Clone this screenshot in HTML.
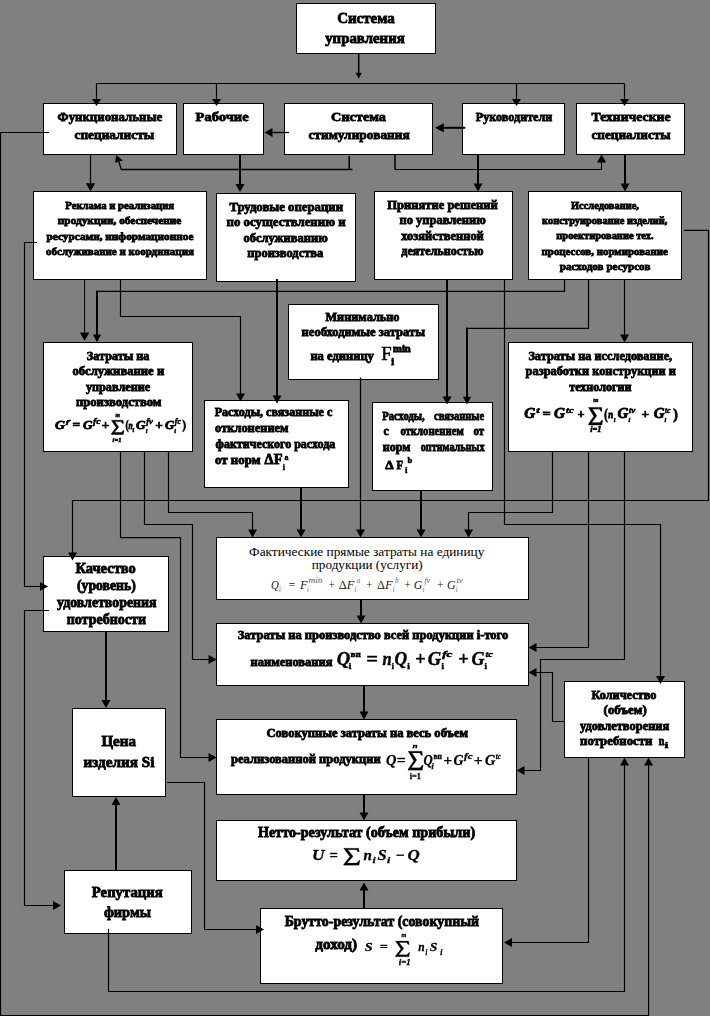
<!DOCTYPE html>
<html><head><meta charset="utf-8"><title>diagram</title>
<style>
html,body{margin:0;padding:0;background:#808080;}
body{width:710px;height:1016px;overflow:hidden;font-family:"Liberation Serif",serif;}
svg{display:block}
</style></head><body>
<svg width="710" height="1016" viewBox="0 0 710 1016">
<rect x="0" y="0" width="710" height="1016" fill="#808080"/>
<g id="boxes">
<rect x="296.5" y="3.5" width="139" height="50" fill="#fff" stroke="#000" stroke-width="1"/>
<rect x="43.5" y="103.5" width="133" height="51" fill="#fff" stroke="#000" stroke-width="1"/>
<rect x="183.5" y="103.5" width="80" height="51" fill="#fff" stroke="#000" stroke-width="1"/>
<rect x="284.5" y="103.5" width="148" height="51" fill="#fff" stroke="#000" stroke-width="1"/>
<rect x="462.5" y="103.5" width="102" height="51" fill="#fff" stroke="#000" stroke-width="1"/>
<rect x="576.5" y="103.5" width="108" height="51" fill="#fff" stroke="#000" stroke-width="1"/>
<rect x="33.5" y="191.5" width="173" height="88" fill="#fff" stroke="#000" stroke-width="1"/>
<rect x="216.5" y="193.5" width="139" height="88" fill="#fff" stroke="#000" stroke-width="1"/>
<rect x="374.5" y="191.5" width="138" height="88" fill="#fff" stroke="#000" stroke-width="1"/>
<rect x="528.5" y="191.5" width="153" height="88" fill="#fff" stroke="#000" stroke-width="1"/>
<rect x="43.5" y="342.5" width="149" height="109" fill="#fff" stroke="#000" stroke-width="1"/>
<rect x="288.5" y="304.5" width="150" height="75" fill="#fff" stroke="#000" stroke-width="1"/>
<rect x="204.5" y="400.5" width="144" height="87" fill="#fff" stroke="#000" stroke-width="1"/>
<rect x="372.5" y="402.5" width="120" height="88" fill="#fff" stroke="#000" stroke-width="1"/>
<rect x="508.5" y="342.5" width="184" height="109" fill="#fff" stroke="#000" stroke-width="1"/>
<rect x="43.5" y="556.5" width="125" height="75" fill="#fff" stroke="#000" stroke-width="1"/>
<rect x="216.5" y="537.5" width="312" height="62" fill="#fff" stroke="#000" stroke-width="1"/>
<rect x="216.5" y="623.5" width="312" height="62" fill="#fff" stroke="#000" stroke-width="1"/>
<rect x="564.5" y="681.5" width="120" height="76" fill="#fff" stroke="#000" stroke-width="1"/>
<rect x="72.5" y="708.5" width="93" height="88" fill="#fff" stroke="#000" stroke-width="1"/>
<rect x="216.5" y="719.5" width="300" height="75" fill="#fff" stroke="#000" stroke-width="1"/>
<rect x="216.5" y="820.5" width="300" height="60" fill="#fff" stroke="#000" stroke-width="1"/>
<rect x="64.5" y="870.5" width="127" height="63" fill="#fff" stroke="#000" stroke-width="1"/>
<rect x="260.5" y="908.5" width="242" height="75" fill="#fff" stroke="#000" stroke-width="1"/>
</g>
<g id="lines">
<polyline points="96.5,83.5 96.5,101.8" fill="none" stroke="#000" stroke-width="1.2"/>
<polygon points="96.5,106 92,99 101,99" fill="#000"/>
<polyline points="96.5,83.5 624.5,83.5" fill="none" stroke="#000" stroke-width="1.2"/>
<polyline points="624.5,83.5 624.5,101.8" fill="none" stroke="#000" stroke-width="1.2"/>
<polygon points="624.5,106 620,99 629,99" fill="#000"/>
<polyline points="216.5,83.5 216.5,101.8" fill="none" stroke="#000" stroke-width="1.2"/>
<polygon points="216.5,106 212,99 221,99" fill="#000"/>
<polyline points="516.5,83.5 516.5,101.8" fill="none" stroke="#000" stroke-width="1.2"/>
<polygon points="516.5,106 512,99 521,99" fill="#000"/>
<polyline points="358.7,53 358.7,75.2" fill="none" stroke="#000" stroke-width="1.5"/>
<polygon points="358.7,78.8 355.5,72.8 361.9,72.8" fill="#000"/>
<polyline points="289,132.5 269.3,132.5" fill="none" stroke="#000" stroke-width="1.3"/>
<polygon points="264.5,132.5 272.5,128 272.5,137" fill="#000"/>
<polyline points="465.3,127.8 440.3,127.8" fill="none" stroke="#000" stroke-width="2"/>
<polygon points="435,127.8 443.8,123.3 443.8,132.3" fill="#000"/>
<polyline points="49,132.5 0.5,132.5 0.5,1015.5 648.6,1015.5 648.6,762.3" fill="none" stroke="#000" stroke-width="1.2"/>
<polygon points="648.6,757.5 653.1,765.5 644.1,765.5" fill="#000"/>
<polyline points="90.5,154.5 90.5,186.5" fill="none" stroke="#000" stroke-width="1.2"/>
<polygon points="90.5,191.4 85.9,183.2 95.1,183.2" fill="#000"/>
<polyline points="240,154 240,187.2" fill="none" stroke="#000" stroke-width="2"/>
<polygon points="240,192 235.5,184 244.5,184" fill="#000"/>
<polyline points="478,154 478,186.7" fill="none" stroke="#000" stroke-width="2"/>
<polygon points="478,191.5 473.5,183.5 482.5,183.5" fill="#000"/>
<polyline points="625,154 625,186.7" fill="none" stroke="#000" stroke-width="2"/>
<polygon points="625,191.5 620.5,183.5 629.5,183.5" fill="#000"/>
<polyline points="349.2,156 349.2,169.5" fill="none" stroke="#000" stroke-width="1.5"/>
<polyline points="352.5,169.5 121.3,169.5 118.8,161.5" fill="none" stroke="#000" stroke-width="1.3"/>
<polygon points="116.3,154.9 115,162.8 122.9,160.6" fill="#000"/>
<polyline points="395,154 395,169.5" fill="none" stroke="#000" stroke-width="1.5"/>
<polyline points="395,169.5 601.5,169.5 601.5,159.3" fill="none" stroke="#000" stroke-width="1.2"/>
<polygon points="601.5,154.5 606,162.5 597,162.5" fill="#000"/>
<polyline points="37,242.5 24.5,242.5 24.5,586.5 43.2,586.5" fill="none" stroke="#000" stroke-width="1.2"/>
<polygon points="48,586.5 40,591 40,582" fill="#000"/>
<polyline points="84.6,279 84.6,335.8" fill="none" stroke="#000" stroke-width="1"/>
<polygon points="84.6,340.8 79.9,332.4 89.3,332.4" fill="#000"/>
<polyline points="564.5,279 564.5,291.4 96,291.4" fill="none" stroke="#000" stroke-width="1.2"/>
<polyline points="97,290.8 97,337.6" fill="none" stroke="#000" stroke-width="2"/>
<polygon points="97,342.2 92.9,334.6 101.1,334.6" fill="#000"/>
<polyline points="120.5,279 120.5,316.5 240.5,316.5 240.5,396.7" fill="none" stroke="#000" stroke-width="1.2"/>
<polygon points="240.5,401.5 236,393.5 245,393.5" fill="#000"/>
<polyline points="277,279 277,398.7" fill="none" stroke="#000" stroke-width="2"/>
<polygon points="277,403.5 272.5,395.5 281.5,395.5" fill="#000"/>
<polyline points="447,279 447,399.6" fill="none" stroke="#000" stroke-width="2"/>
<polygon points="447,404.4 442.5,396.4 451.5,396.4" fill="#000"/>
<polyline points="588.5,279 588.5,328.4 466,328.4" fill="none" stroke="#000" stroke-width="1.2"/>
<polyline points="467,327.8 467,399.8" fill="none" stroke="#000" stroke-width="2"/>
<polygon points="467,404.4 462.9,396.8 471.1,396.8" fill="#000"/>
<polyline points="504.5,279 504.5,524.5 660.5,524.5 660.5,679.2" fill="none" stroke="#000" stroke-width="1.2"/>
<polygon points="660.5,684 656,676 665,676" fill="#000"/>
<polyline points="624.5,279 624.5,337.7" fill="none" stroke="#000" stroke-width="1.2"/>
<polygon points="624.5,342.5 620,334.5 629,334.5" fill="#000"/>
<polyline points="684,230.4 708.5,230.4 708.5,500.5 72.5,500.5 72.5,555.7" fill="none" stroke="#000" stroke-width="1.2"/>
<polygon points="72.5,560.5 68,552.5 77,552.5" fill="#000"/>
<polyline points="120.5,451.5 120.5,537.7 180.5,537.7 180.5,757.5 211.7,757.5" fill="none" stroke="#000" stroke-width="1.2"/>
<polygon points="216.5,757.5 208.5,762 208.5,753" fill="#000"/>
<polyline points="144.5,451.5 144.5,524.5 192.5,524.5 192.5,659.5 211.7,659.5" fill="none" stroke="#000" stroke-width="1.2"/>
<polygon points="216.5,659.5 208.5,664 208.5,655" fill="#000"/>
<polyline points="168.5,451.5 168.5,512.5 252.5,512.5 252.5,532.7" fill="none" stroke="#000" stroke-width="1.2"/>
<polygon points="252.5,537.5 248,529.5 257,529.5" fill="#000"/>
<polyline points="301,487 301,532.7" fill="none" stroke="#000" stroke-width="2"/>
<polygon points="301,537.5 296.5,529.5 305.5,529.5" fill="#000"/>
<polyline points="360.5,377.5 360.5,532.7" fill="none" stroke="#000" stroke-width="1.3"/>
<polygon points="360.5,537.5 356,529.5 365,529.5" fill="#000"/>
<polyline points="421,490 421,532.7" fill="none" stroke="#000" stroke-width="2"/>
<polygon points="421,537.5 416.5,529.5 425.5,529.5" fill="#000"/>
<polyline points="552.5,451.5 552.5,512.5 468.5,512.5 468.5,532.7" fill="none" stroke="#000" stroke-width="1.2"/>
<polygon points="468.5,537.5 464,529.5 473,529.5" fill="#000"/>
<polyline points="588.5,451.5 588.5,647.5 533.3,647.5" fill="none" stroke="#000" stroke-width="1.2"/>
<polygon points="528.5,647.5 536.5,643 536.5,652" fill="#000"/>
<polyline points="624.5,451.5 624.5,659.5 540.5,659.5 540.5,770.5 521.3,770.5" fill="none" stroke="#000" stroke-width="1.2"/>
<polygon points="516.5,770.5 524.5,766 524.5,775" fill="#000"/>
<polyline points="564.5,721.5 552.5,721.5 552.5,672.5 533.3,672.5" fill="none" stroke="#000" stroke-width="1.2"/>
<polygon points="528.5,672.5 536.5,668 536.5,677" fill="#000"/>
<polyline points="361,599.5 361,618.7" fill="none" stroke="#000" stroke-width="2"/>
<polygon points="361,623.5 356.5,615.5 365.5,615.5" fill="#000"/>
<polyline points="364,685.5 364,714.7" fill="none" stroke="#000" stroke-width="2"/>
<polygon points="364,719.5 359.5,711.5 368.5,711.5" fill="#000"/>
<polyline points="364,794 364,815.7" fill="none" stroke="#000" stroke-width="2"/>
<polygon points="364,820.5 359.5,812.5 368.5,812.5" fill="#000"/>
<polyline points="364,908.5 364,887.3" fill="none" stroke="#000" stroke-width="2"/>
<polygon points="364,882.5 368.5,890.5 359.5,890.5" fill="#000"/>
<polyline points="106,631.5 106,703.2" fill="none" stroke="#000" stroke-width="2"/>
<polygon points="106,708 101.5,700 110.5,700" fill="#000"/>
<polyline points="116,870.5 116,801.8" fill="none" stroke="#000" stroke-width="2"/>
<polygon points="116,797 120.5,805 111.5,805" fill="#000"/>
<polyline points="49,610.5 24.5,610.5 24.5,905.5 56.2,905.5" fill="none" stroke="#000" stroke-width="1.2"/>
<polygon points="61,905.5 53,910 53,901" fill="#000"/>
<polyline points="167,782.5 204.5,782.5 204.5,929.5 259.2,929.5" fill="none" stroke="#000" stroke-width="1.2"/>
<polygon points="264,929.5 256,934 256,925" fill="#000"/>
<polyline points="588.5,757.5 588.5,942.5 508.8,942.5" fill="none" stroke="#000" stroke-width="1.2"/>
<polygon points="504,942.5 512,938 512,947" fill="#000"/>
<polyline points="108.5,928.7 108.5,991.5 624.5,991.5 624.5,762.3" fill="none" stroke="#000" stroke-width="1.2"/>
<polygon points="624.5,757.5 629,765.5 620,765.5" fill="#000"/>
</g>
<defs><filter id="bl" x="-2%" y="-2%" width="104%" height="104%"><feGaussianBlur stdDeviation="0.45 0.3"/></filter></defs>
<g id="text" filter="url(#bl)">
<text x="337.2" y="23.2" font-size="15" text-anchor="start" font-weight="bold" font-style="normal" fill="#000" font-family="'Liberation Serif', serif" stroke="#000" stroke-width="0.8" textLength="57.6" lengthAdjust="spacingAndGlyphs">Система</text>
<text x="325.2" y="43" font-size="15" text-anchor="start" font-weight="bold" font-style="normal" fill="#000" font-family="'Liberation Serif', serif" stroke="#000" stroke-width="0.8" textLength="79.6" lengthAdjust="spacingAndGlyphs">управления</text>
<text x="57.6" y="120.7" font-size="13.5" text-anchor="start" font-weight="bold" font-style="normal" fill="#000" font-family="'Liberation Serif', serif" stroke="#000" stroke-width="0.8" textLength="104.6" lengthAdjust="spacingAndGlyphs">Функциональные</text>
<text x="74.5" y="139" font-size="13.5" text-anchor="start" font-weight="bold" font-style="normal" fill="#000" font-family="'Liberation Serif', serif" stroke="#000" stroke-width="0.8" textLength="79.6" lengthAdjust="spacingAndGlyphs">специалисты</text>
<text x="195.6" y="121.2" font-size="13.5" text-anchor="start" font-weight="bold" font-style="normal" fill="#000" font-family="'Liberation Serif', serif" stroke="#000" stroke-width="0.8" textLength="53" lengthAdjust="spacingAndGlyphs">Рабочие</text>
<text x="331.1" y="120.7" font-size="13.5" text-anchor="start" font-weight="bold" font-style="normal" fill="#000" font-family="'Liberation Serif', serif" stroke="#000" stroke-width="0.8" textLength="54.9" lengthAdjust="spacingAndGlyphs">Система</text>
<text x="308.4" y="139" font-size="13.5" text-anchor="start" font-weight="bold" font-style="normal" fill="#000" font-family="'Liberation Serif', serif" stroke="#000" stroke-width="0.8" textLength="101.4" lengthAdjust="spacingAndGlyphs">стимулирования</text>
<text x="475.8" y="121.2" font-size="13.5" text-anchor="start" font-weight="bold" font-style="normal" fill="#000" font-family="'Liberation Serif', serif" stroke="#000" stroke-width="0.8" textLength="76.5" lengthAdjust="spacingAndGlyphs">Руководители</text>
<text x="591.5" y="120.7" font-size="13.5" text-anchor="start" font-weight="bold" font-style="normal" fill="#000" font-family="'Liberation Serif', serif" stroke="#000" stroke-width="0.8" textLength="79.1" lengthAdjust="spacingAndGlyphs">Технические</text>
<text x="591.5" y="139" font-size="13.5" text-anchor="start" font-weight="bold" font-style="normal" fill="#000" font-family="'Liberation Serif', serif" stroke="#000" stroke-width="0.8" textLength="79.1" lengthAdjust="spacingAndGlyphs">специалисты</text>
<text x="65.3" y="209" font-size="11" text-anchor="start" font-weight="bold" font-style="normal" fill="#000" font-family="'Liberation Serif', serif" stroke="#000" stroke-width="0.8" textLength="108.8" lengthAdjust="spacingAndGlyphs">Реклама и реализация</text>
<text x="57.8" y="224.3" font-size="11" text-anchor="start" font-weight="bold" font-style="normal" fill="#000" font-family="'Liberation Serif', serif" stroke="#000" stroke-width="0.8" textLength="123.5" lengthAdjust="spacingAndGlyphs">продукции,  обеспечение</text>
<text x="46.6" y="239.8" font-size="11" text-anchor="start" font-weight="bold" font-style="normal" fill="#000" font-family="'Liberation Serif', serif" stroke="#000" stroke-width="0.8" textLength="146.8" lengthAdjust="spacingAndGlyphs">ресурсами, информационное</text>
<text x="46.1" y="255.2" font-size="11" text-anchor="start" font-weight="bold" font-style="normal" fill="#000" font-family="'Liberation Serif', serif" stroke="#000" stroke-width="0.8" textLength="147.8" lengthAdjust="spacingAndGlyphs">обслуживание  и координация</text>
<text x="229.4" y="211" font-size="12.5" text-anchor="start" font-weight="bold" font-style="normal" fill="#000" font-family="'Liberation Serif', serif" stroke="#000" stroke-width="0.8" textLength="113.6" lengthAdjust="spacingAndGlyphs">Трудовые операции</text>
<text x="226.6" y="226.4" font-size="12.5" text-anchor="start" font-weight="bold" font-style="normal" fill="#000" font-family="'Liberation Serif', serif" stroke="#000" stroke-width="0.8" textLength="119" lengthAdjust="spacingAndGlyphs">по осуществлению и</text>
<text x="243.4" y="241.8" font-size="12.5" text-anchor="start" font-weight="bold" font-style="normal" fill="#000" font-family="'Liberation Serif', serif" stroke="#000" stroke-width="0.8" textLength="84.3" lengthAdjust="spacingAndGlyphs">обслуживанию</text>
<text x="247.3" y="257.4" font-size="12.5" text-anchor="start" font-weight="bold" font-style="normal" fill="#000" font-family="'Liberation Serif', serif" stroke="#000" stroke-width="0.8" textLength="76" lengthAdjust="spacingAndGlyphs">производства</text>
<text x="387.3" y="208.8" font-size="12.5" text-anchor="start" font-weight="bold" font-style="normal" fill="#000" font-family="'Liberation Serif', serif" stroke="#000" stroke-width="0.8" textLength="110.5" lengthAdjust="spacingAndGlyphs">Принятие  решений</text>
<text x="399.5" y="224" font-size="12.5" text-anchor="start" font-weight="bold" font-style="normal" fill="#000" font-family="'Liberation Serif', serif" stroke="#000" stroke-width="0.8" textLength="86.3" lengthAdjust="spacingAndGlyphs">по управлению</text>
<text x="401.3" y="239.6" font-size="12.5" text-anchor="start" font-weight="bold" font-style="normal" fill="#000" font-family="'Liberation Serif', serif" stroke="#000" stroke-width="0.8" textLength="82.5" lengthAdjust="spacingAndGlyphs">хозяйственной</text>
<text x="401.3" y="255.2" font-size="12.5" text-anchor="start" font-weight="bold" font-style="normal" fill="#000" font-family="'Liberation Serif', serif" stroke="#000" stroke-width="0.8" textLength="82.3" lengthAdjust="spacingAndGlyphs">деятельностью</text>
<text x="571" y="208.6" font-size="11" text-anchor="start" font-weight="bold" font-style="normal" fill="#000" font-family="'Liberation Serif', serif" stroke="#000" stroke-width="0.8" textLength="67.9" lengthAdjust="spacingAndGlyphs">Исследование,</text>
<text x="542.1" y="223.9" font-size="11" text-anchor="start" font-weight="bold" font-style="normal" fill="#000" font-family="'Liberation Serif', serif" stroke="#000" stroke-width="0.8" textLength="125.4" lengthAdjust="spacingAndGlyphs">конструирование изделий,</text>
<text x="556.3" y="239.3" font-size="11" text-anchor="start" font-weight="bold" font-style="normal" fill="#000" font-family="'Liberation Serif', serif" stroke="#000" stroke-width="0.8" textLength="97.3" lengthAdjust="spacingAndGlyphs">проектирование тех.</text>
<text x="541.6" y="254.7" font-size="11" text-anchor="start" font-weight="bold" font-style="normal" fill="#000" font-family="'Liberation Serif', serif" stroke="#000" stroke-width="0.8" textLength="126.2" lengthAdjust="spacingAndGlyphs">процессов, нормирование</text>
<text x="559.8" y="270.1" font-size="11" text-anchor="start" font-weight="bold" font-style="normal" fill="#000" font-family="'Liberation Serif', serif" stroke="#000" stroke-width="0.8" textLength="90.6" lengthAdjust="spacingAndGlyphs">расходов ресурсов</text>
<text x="86.8" y="360" font-size="12.3" text-anchor="start" font-weight="bold" font-style="normal" fill="#000" font-family="'Liberation Serif', serif" stroke="#000" stroke-width="0.8" textLength="62.6" lengthAdjust="spacingAndGlyphs">Затраты на</text>
<text x="72.4" y="375" font-size="12.3" text-anchor="start" font-weight="bold" font-style="normal" fill="#000" font-family="'Liberation Serif', serif" stroke="#000" stroke-width="0.8" textLength="91.8" lengthAdjust="spacingAndGlyphs">обслуживание и</text>
<text x="85.9" y="390.6" font-size="12.3" text-anchor="start" font-weight="bold" font-style="normal" fill="#000" font-family="'Liberation Serif', serif" stroke="#000" stroke-width="0.8" textLength="64.4" lengthAdjust="spacingAndGlyphs">управление</text>
<text x="75.9" y="406" font-size="12.3" text-anchor="start" font-weight="bold" font-style="normal" fill="#000" font-family="'Liberation Serif', serif" stroke="#000" stroke-width="0.8" textLength="85.6" lengthAdjust="spacingAndGlyphs">производством</text>
<text x="325.5" y="320.5" font-size="12.3" text-anchor="start" font-weight="bold" font-style="normal" fill="#000" font-family="'Liberation Serif', serif" stroke="#000" stroke-width="0.8" textLength="74" lengthAdjust="spacingAndGlyphs">Минимально</text>
<text x="301.6" y="336.3" font-size="12.3" text-anchor="start" font-weight="bold" font-style="normal" fill="#000" font-family="'Liberation Serif', serif" stroke="#000" stroke-width="0.8" textLength="123.4" lengthAdjust="spacingAndGlyphs">необходимые затраты</text>
<text x="310.4" y="359.6" font-size="12.3" text-anchor="start" font-weight="bold" font-style="normal" fill="#000" font-family="'Liberation Serif', serif" stroke="#000" stroke-width="0.8" textLength="63.5" lengthAdjust="spacingAndGlyphs">на единицу</text>
<text x="214.7" y="416.3" font-size="12.3" text-anchor="start" font-weight="bold" font-style="normal" fill="#000" font-family="'Liberation Serif', serif" stroke="#000" stroke-width="0.8" textLength="117.6" lengthAdjust="spacingAndGlyphs">Расходы, связанные с</text>
<text x="215.1" y="432.1" font-size="12.3" text-anchor="start" font-weight="bold" font-style="normal" fill="#000" font-family="'Liberation Serif', serif" stroke="#000" stroke-width="0.8" textLength="73.5" lengthAdjust="spacingAndGlyphs">отклонением</text>
<text x="215.6" y="447.9" font-size="12.3" text-anchor="start" font-weight="bold" font-style="normal" fill="#000" font-family="'Liberation Serif', serif" stroke="#000" stroke-width="0.8" textLength="119.7" lengthAdjust="spacingAndGlyphs">фактического расхода</text>
<text x="215.1" y="463.7" font-size="12.3" text-anchor="start" font-weight="bold" font-style="normal" fill="#000" font-family="'Liberation Serif', serif" stroke="#000" stroke-width="0.8" textLength="45.3" lengthAdjust="spacingAndGlyphs">от норм</text>
<text x="382.3" y="419.6" font-size="12.3" text-anchor="start" font-weight="bold" font-style="normal" fill="#000" font-family="'Liberation Serif', serif" stroke="#000" stroke-width="0.8" textLength="42.4" lengthAdjust="spacingAndGlyphs">Расходы,</text>
<text x="434" y="419.6" font-size="12.3" text-anchor="start" font-weight="bold" font-style="normal" fill="#000" font-family="'Liberation Serif', serif" stroke="#000" stroke-width="0.8" textLength="50.2" lengthAdjust="spacingAndGlyphs">связанные</text>
<text x="383.6" y="434.8" font-size="12.3" text-anchor="start" font-weight="bold" font-style="normal" fill="#000" font-family="'Liberation Serif', serif" stroke="#000" stroke-width="0.8" textLength="5.3" lengthAdjust="spacingAndGlyphs">с</text>
<text x="400.4" y="434.8" font-size="12.3" text-anchor="start" font-weight="bold" font-style="normal" fill="#000" font-family="'Liberation Serif', serif" stroke="#000" stroke-width="0.8" textLength="63.3" lengthAdjust="spacingAndGlyphs">отклонением</text>
<text x="473.6" y="434.8" font-size="12.3" text-anchor="start" font-weight="bold" font-style="normal" fill="#000" font-family="'Liberation Serif', serif" stroke="#000" stroke-width="0.8" textLength="10.6" lengthAdjust="spacingAndGlyphs">от</text>
<text x="382.7" y="450.6" font-size="12.3" text-anchor="start" font-weight="bold" font-style="normal" fill="#000" font-family="'Liberation Serif', serif" stroke="#000" stroke-width="0.8" textLength="27.7" lengthAdjust="spacingAndGlyphs">норм</text>
<text x="420.7" y="450.6" font-size="12.3" text-anchor="start" font-weight="bold" font-style="normal" fill="#000" font-family="'Liberation Serif', serif" stroke="#000" stroke-width="0.8" textLength="63.9" lengthAdjust="spacingAndGlyphs">оптимальных</text>
<text x="528.4" y="360.3" font-size="12.3" text-anchor="start" font-weight="bold" font-style="normal" fill="#000" font-family="'Liberation Serif', serif" stroke="#000" stroke-width="0.8" textLength="143.8" lengthAdjust="spacingAndGlyphs">Затраты на исследование,</text>
<text x="525.6" y="374.8" font-size="12.3" text-anchor="start" font-weight="bold" font-style="normal" fill="#000" font-family="'Liberation Serif', serif" stroke="#000" stroke-width="0.8" textLength="150.3" lengthAdjust="spacingAndGlyphs">разработки конструкции и</text>
<text x="569.2" y="390.5" font-size="12.3" text-anchor="start" font-weight="bold" font-style="normal" fill="#000" font-family="'Liberation Serif', serif" stroke="#000" stroke-width="0.8" textLength="62.4" lengthAdjust="spacingAndGlyphs">технологии</text>
<text x="75.5" y="572.5" font-size="14" text-anchor="start" font-weight="bold" font-style="normal" fill="#000" font-family="'Liberation Serif', serif" stroke="#000" stroke-width="0.8" textLength="60.2" lengthAdjust="spacingAndGlyphs">Качество</text>
<text x="77" y="589.8" font-size="14" text-anchor="start" font-weight="bold" font-style="normal" fill="#000" font-family="'Liberation Serif', serif" stroke="#000" stroke-width="0.8" textLength="58.7" lengthAdjust="spacingAndGlyphs">(уровень)</text>
<text x="57.1" y="607.2" font-size="14" text-anchor="start" font-weight="bold" font-style="normal" fill="#000" font-family="'Liberation Serif', serif" stroke="#000" stroke-width="0.8" textLength="99.5" lengthAdjust="spacingAndGlyphs">удовлетворения</text>
<text x="66.7" y="623.8" font-size="14" text-anchor="start" font-weight="bold" font-style="normal" fill="#000" font-family="'Liberation Serif', serif" stroke="#000" stroke-width="0.8" textLength="79.3" lengthAdjust="spacingAndGlyphs">потребности</text>
<text x="101.4" y="746.2" font-size="15" text-anchor="start" font-weight="bold" font-style="normal" fill="#000" font-family="'Liberation Serif', serif" stroke="#000" stroke-width="0.8" textLength="34.5" lengthAdjust="spacingAndGlyphs">Цена</text>
<text x="83.4" y="766.5" font-size="15" text-anchor="start" font-weight="bold" font-style="normal" fill="#000" font-family="'Liberation Serif', serif" stroke="#000" stroke-width="0.8" textLength="71" lengthAdjust="spacingAndGlyphs">изделия Si</text>
<text x="91.8" y="896.6" font-size="14.6" text-anchor="start" font-weight="bold" font-style="normal" fill="#000" font-family="'Liberation Serif', serif" stroke="#000" stroke-width="0.8" textLength="70.9" lengthAdjust="spacingAndGlyphs">Репутация</text>
<text x="103.9" y="916.5" font-size="14.6" text-anchor="start" font-weight="bold" font-style="normal" fill="#000" font-family="'Liberation Serif', serif" stroke="#000" stroke-width="0.8" textLength="47" lengthAdjust="spacingAndGlyphs">фирмы</text>
<text x="237.7" y="639.2" font-size="12.5" text-anchor="start" font-weight="bold" font-style="normal" fill="#000" font-family="'Liberation Serif', serif" stroke="#000" stroke-width="0.8" textLength="270.5" lengthAdjust="spacingAndGlyphs">Затраты на производство всей продукции i-того</text>
<text x="250.5" y="665.9" font-size="12.5" text-anchor="start" font-weight="bold" font-style="normal" fill="#000" font-family="'Liberation Serif', serif" stroke="#000" stroke-width="0.8" textLength="82" lengthAdjust="spacingAndGlyphs">наименования</text>
<text x="266.5" y="736.8" font-size="12.5" text-anchor="start" font-weight="bold" font-style="normal" fill="#000" font-family="'Liberation Serif', serif" stroke="#000" stroke-width="0.8" textLength="201.5" lengthAdjust="spacingAndGlyphs">Совокупные затраты на весь объем</text>
<text x="231.1" y="763.3" font-size="12.5" text-anchor="start" font-weight="bold" font-style="normal" fill="#000" font-family="'Liberation Serif', serif" stroke="#000" stroke-width="0.8" textLength="149.5" lengthAdjust="spacingAndGlyphs">реализованной продукции</text>
<text x="258.1" y="836.8" font-size="14.1" text-anchor="start" font-weight="bold" font-style="normal" fill="#000" font-family="'Liberation Serif', serif" stroke="#000" stroke-width="0.8" textLength="217" lengthAdjust="spacingAndGlyphs">Нетто-результат (объем прибыли)</text>
<text x="284.7" y="925.5" font-size="14" text-anchor="start" font-weight="bold" font-style="normal" fill="#000" font-family="'Liberation Serif', serif" stroke="#000" stroke-width="0.8" textLength="194.4" lengthAdjust="spacingAndGlyphs">Брутто-результат (совокупный</text>
<text x="315.3" y="949.2" font-size="14" text-anchor="start" font-weight="bold" font-style="normal" fill="#000" font-family="'Liberation Serif', serif" stroke="#000" stroke-width="0.8" textLength="41.8" lengthAdjust="spacingAndGlyphs">доход)</text>
<text x="591.5" y="698.5" font-size="12.5" text-anchor="start" font-weight="bold" font-style="normal" fill="#000" font-family="'Liberation Serif', serif" stroke="#000" stroke-width="0.8" textLength="64.8" lengthAdjust="spacingAndGlyphs">Количество</text>
<text x="603.6" y="713.9" font-size="12.5" text-anchor="start" font-weight="bold" font-style="normal" fill="#000" font-family="'Liberation Serif', serif" stroke="#000" stroke-width="0.8" textLength="43.1" lengthAdjust="spacingAndGlyphs">(объем)</text>
<text x="580.1" y="729.8" font-size="12.5" text-anchor="start" font-weight="bold" font-style="normal" fill="#000" font-family="'Liberation Serif', serif" stroke="#000" stroke-width="0.8" textLength="89.1" lengthAdjust="spacingAndGlyphs">удовлетворения</text>
<text x="580.1" y="744.5" font-size="12.5" text-anchor="start" font-weight="bold" font-style="normal" fill="#000" font-family="'Liberation Serif', serif" stroke="#000" stroke-width="0.8" textLength="72.3" lengthAdjust="spacingAndGlyphs">потребности</text>
<text x="55" y="429.2" font-size="13" text-anchor="start" font-weight="bold" font-style="italic" fill="#000" font-family="'Liberation Serif', serif" stroke="#000" stroke-width="0.8" textLength="10" lengthAdjust="spacingAndGlyphs">G</text>
<text x="65.8" y="424.2" font-size="7" text-anchor="start" font-weight="bold" font-style="italic" fill="#000" font-family="'Liberation Serif', serif" stroke="#000" stroke-width="0.5" textLength="3.8" lengthAdjust="spacingAndGlyphs">f</text>
<text x="72.6" y="429.2" font-size="13" text-anchor="start" font-weight="bold" font-style="normal" fill="#000" font-family="'Liberation Serif', serif" stroke="#000" stroke-width="0.8" textLength="7.6" lengthAdjust="spacingAndGlyphs">=</text>
<text x="83" y="429.2" font-size="13" text-anchor="start" font-weight="bold" font-style="italic" fill="#000" font-family="'Liberation Serif', serif" stroke="#000" stroke-width="0.8" textLength="9.6" lengthAdjust="spacingAndGlyphs">G</text>
<text x="93" y="424.2" font-size="8" text-anchor="start" font-weight="bold" font-style="italic" fill="#000" font-family="'Liberation Serif', serif" stroke="#000" stroke-width="0.5" textLength="7.8" lengthAdjust="spacingAndGlyphs">fc</text>
<text x="101.8" y="429.2" font-size="13" text-anchor="start" font-weight="bold" font-style="normal" fill="#000" font-family="'Liberation Serif', serif" stroke="#000" stroke-width="0.8" textLength="7.6" lengthAdjust="spacingAndGlyphs">+</text>
<path d="M111.4,420.3 L123,420.3 L123.5,423.4 L122.5,423.4 L121.2,421.6 L114.7,421.6 L118.7,426.9 L114.2,432.6 L121.5,432.6 L123.2,430.6 L124,430.6 L123.2,434.4 L111.4,434.4 L111.4,433.7 L116.2,427.4 Z" fill="#000" stroke="#000" stroke-width="0.5" stroke-linejoin="miter"/>
<text x="115.4" y="417.2" font-size="6" text-anchor="start" font-weight="bold" font-style="italic" fill="#000" font-family="'Liberation Serif', serif" stroke="#000" stroke-width="0.5" textLength="4.4" lengthAdjust="spacingAndGlyphs">m</text>
<text x="112.6" y="441.8" font-size="6.5" text-anchor="start" font-weight="bold" font-style="italic" fill="#000" font-family="'Liberation Serif', serif" stroke="#000" stroke-width="0.5" textLength="8.8" lengthAdjust="spacingAndGlyphs">i=1</text>
<text x="125.6" y="429.2" font-size="13" text-anchor="start" font-weight="bold" font-style="normal" fill="#000" font-family="'Liberation Serif', serif" stroke="#000" stroke-width="0.8" textLength="3" lengthAdjust="spacingAndGlyphs">(</text>
<text x="128.6" y="429.2" font-size="10.5" text-anchor="start" font-weight="bold" font-style="italic" fill="#000" font-family="'Liberation Serif', serif" stroke="#000" stroke-width="0.8" textLength="4.2" lengthAdjust="spacingAndGlyphs">n</text>
<text x="132.6" y="432.2" font-size="7" text-anchor="start" font-weight="bold" font-style="italic" fill="#000" font-family="'Liberation Serif', serif" stroke="#000" stroke-width="0.5" textLength="1.8" lengthAdjust="spacingAndGlyphs">i</text>
<text x="136" y="429.2" font-size="13" text-anchor="start" font-weight="bold" font-style="italic" fill="#000" font-family="'Liberation Serif', serif" stroke="#000" stroke-width="0.8" textLength="9.6" lengthAdjust="spacingAndGlyphs">G</text>
<text x="146.2" y="424.2" font-size="8" text-anchor="start" font-weight="bold" font-style="italic" fill="#000" font-family="'Liberation Serif', serif" stroke="#000" stroke-width="0.5" textLength="6.8" lengthAdjust="spacingAndGlyphs">fv</text>
<text x="145.8" y="432.7" font-size="7" text-anchor="start" font-weight="bold" font-style="italic" fill="#000" font-family="'Liberation Serif', serif" stroke="#000" stroke-width="0.5" textLength="1.8" lengthAdjust="spacingAndGlyphs">i</text>
<text x="155.2" y="429.2" font-size="13" text-anchor="start" font-weight="bold" font-style="normal" fill="#000" font-family="'Liberation Serif', serif" stroke="#000" stroke-width="0.8" textLength="7.6" lengthAdjust="spacingAndGlyphs">+</text>
<text x="165" y="429.2" font-size="13" text-anchor="start" font-weight="bold" font-style="italic" fill="#000" font-family="'Liberation Serif', serif" stroke="#000" stroke-width="0.8" textLength="9.4" lengthAdjust="spacingAndGlyphs">G</text>
<text x="174.8" y="424.2" font-size="8" text-anchor="start" font-weight="bold" font-style="italic" fill="#000" font-family="'Liberation Serif', serif" stroke="#000" stroke-width="0.5" textLength="6.2" lengthAdjust="spacingAndGlyphs">fc</text>
<text x="174.2" y="432.7" font-size="7" text-anchor="start" font-weight="bold" font-style="italic" fill="#000" font-family="'Liberation Serif', serif" stroke="#000" stroke-width="0.5" textLength="1.8" lengthAdjust="spacingAndGlyphs">i</text>
<text x="182.4" y="429.2" font-size="13" text-anchor="start" font-weight="bold" font-style="normal" fill="#000" font-family="'Liberation Serif', serif" stroke="#000" stroke-width="0.8" textLength="3.4" lengthAdjust="spacingAndGlyphs">)</text>
<text x="524.2" y="418.2" font-size="14" text-anchor="start" font-weight="bold" font-style="italic" fill="#000" font-family="'Liberation Serif', serif" stroke="#000" stroke-width="0.8" textLength="11" lengthAdjust="spacingAndGlyphs">G</text>
<text x="536.2" y="412.7" font-size="8" text-anchor="start" font-weight="bold" font-style="italic" fill="#000" font-family="'Liberation Serif', serif" stroke="#000" stroke-width="0.5" textLength="3.4" lengthAdjust="spacingAndGlyphs">t</text>
<text x="542.4" y="418.2" font-size="13" text-anchor="start" font-weight="bold" font-style="normal" fill="#000" font-family="'Liberation Serif', serif" stroke="#000" stroke-width="0.8" textLength="8.2" lengthAdjust="spacingAndGlyphs">=</text>
<text x="554" y="418.2" font-size="14" text-anchor="start" font-weight="bold" font-style="italic" fill="#000" font-family="'Liberation Serif', serif" stroke="#000" stroke-width="0.8" textLength="11" lengthAdjust="spacingAndGlyphs">G</text>
<text x="566" y="412.7" font-size="8" text-anchor="start" font-weight="bold" font-style="italic" fill="#000" font-family="'Liberation Serif', serif" stroke="#000" stroke-width="0.5" textLength="7.6" lengthAdjust="spacingAndGlyphs">tc</text>
<text x="577.6" y="418.2" font-size="13" text-anchor="start" font-weight="bold" font-style="normal" fill="#000" font-family="'Liberation Serif', serif" stroke="#000" stroke-width="0.8" textLength="7" lengthAdjust="spacingAndGlyphs">+</text>
<path d="M588.6,407.4 L601.5,407.4 L602,411.3 L600.9,411.3 L599.5,409 L592.2,409 L596.7,415.7 L591.7,422.7 L599.8,422.7 L601.8,420.2 L602.6,420.2 L601.8,425 L588.6,425 L588.6,424.1 L593.9,416.2 Z" fill="#000" stroke="#000" stroke-width="0.5" stroke-linejoin="miter"/>
<text x="593.2" y="401.8" font-size="6.5" text-anchor="start" font-weight="bold" font-style="italic" fill="#000" font-family="'Liberation Serif', serif" stroke="#000" stroke-width="0.5" textLength="5.2" lengthAdjust="spacingAndGlyphs">m</text>
<text x="590.2" y="431.6" font-size="7.5" text-anchor="start" font-weight="bold" font-style="italic" fill="#000" font-family="'Liberation Serif', serif" stroke="#000" stroke-width="0.5" textLength="11.4" lengthAdjust="spacingAndGlyphs">i=1</text>
<text x="604.2" y="418.7" font-size="14" text-anchor="start" font-weight="bold" font-style="normal" fill="#000" font-family="'Liberation Serif', serif" stroke="#000" stroke-width="0.8" textLength="3.4" lengthAdjust="spacingAndGlyphs">(</text>
<text x="608.2" y="418.2" font-size="11" text-anchor="start" font-weight="bold" font-style="italic" fill="#000" font-family="'Liberation Serif', serif" stroke="#000" stroke-width="0.8" textLength="5" lengthAdjust="spacingAndGlyphs">n</text>
<text x="613.8" y="421.7" font-size="7" text-anchor="start" font-weight="bold" font-style="italic" fill="#000" font-family="'Liberation Serif', serif" stroke="#000" stroke-width="0.5" textLength="1.8" lengthAdjust="spacingAndGlyphs">i</text>
<text x="617.4" y="418.2" font-size="14" text-anchor="start" font-weight="bold" font-style="italic" fill="#000" font-family="'Liberation Serif', serif" stroke="#000" stroke-width="0.8" textLength="10.8" lengthAdjust="spacingAndGlyphs">G</text>
<text x="628.8" y="412.7" font-size="8" text-anchor="start" font-weight="bold" font-style="italic" fill="#000" font-family="'Liberation Serif', serif" stroke="#000" stroke-width="0.5" textLength="6.6" lengthAdjust="spacingAndGlyphs">tv</text>
<text x="628.4" y="422.2" font-size="7" text-anchor="start" font-weight="bold" font-style="italic" fill="#000" font-family="'Liberation Serif', serif" stroke="#000" stroke-width="0.5" textLength="1.8" lengthAdjust="spacingAndGlyphs">i</text>
<text x="641.6" y="418.2" font-size="13" text-anchor="start" font-weight="bold" font-style="normal" fill="#000" font-family="'Liberation Serif', serif" stroke="#000" stroke-width="0.8" textLength="7.6" lengthAdjust="spacingAndGlyphs">+</text>
<text x="653.8" y="418.2" font-size="14" text-anchor="start" font-weight="bold" font-style="italic" fill="#000" font-family="'Liberation Serif', serif" stroke="#000" stroke-width="0.8" textLength="10.8" lengthAdjust="spacingAndGlyphs">G</text>
<text x="664.8" y="412.7" font-size="8" text-anchor="start" font-weight="bold" font-style="italic" fill="#000" font-family="'Liberation Serif', serif" stroke="#000" stroke-width="0.5" textLength="5.8" lengthAdjust="spacingAndGlyphs">tc</text>
<text x="664.6" y="422.2" font-size="7" text-anchor="start" font-weight="bold" font-style="italic" fill="#000" font-family="'Liberation Serif', serif" stroke="#000" stroke-width="0.5" textLength="1.8" lengthAdjust="spacingAndGlyphs">i</text>
<text x="673.2" y="418.7" font-size="14" text-anchor="start" font-weight="bold" font-style="normal" fill="#000" font-family="'Liberation Serif', serif" stroke="#000" stroke-width="0.8" textLength="4.6" lengthAdjust="spacingAndGlyphs">)</text>
<text x="381.2" y="359.8" font-size="18" text-anchor="start" font-weight="normal" font-style="normal" fill="#000" font-family="'Liberation Serif', serif" stroke="#000" stroke-width="0.45" textLength="10.4" lengthAdjust="spacingAndGlyphs">F</text>
<text x="391.2" y="365" font-size="11" text-anchor="start" font-weight="bold" font-style="normal" fill="#000" font-family="'Liberation Serif', serif" stroke="#000" stroke-width="0.8" textLength="2.8" lengthAdjust="spacingAndGlyphs">i</text>
<text x="393" y="351.9" font-size="10.5" text-anchor="start" font-weight="bold" font-style="normal" fill="#000" font-family="'Liberation Serif', serif" stroke="#000" stroke-width="0.8" textLength="17.8" lengthAdjust="spacingAndGlyphs">min</text>
<text x="264.6" y="463.7" font-size="14" text-anchor="start" font-weight="bold" font-style="normal" fill="#000" font-family="'Liberation Serif', serif" stroke="#000" stroke-width="0.8" textLength="9" lengthAdjust="spacingAndGlyphs">Δ</text>
<text x="273.8" y="463.7" font-size="14" text-anchor="start" font-weight="bold" font-style="normal" fill="#000" font-family="'Liberation Serif', serif" stroke="#000" stroke-width="0.8" textLength="8.8" lengthAdjust="spacingAndGlyphs">F</text>
<text x="284.4" y="459.8" font-size="9" text-anchor="start" font-weight="bold" font-style="normal" fill="#000" font-family="'Liberation Serif', serif" stroke="#000" stroke-width="0.5" textLength="4" lengthAdjust="spacingAndGlyphs">a</text>
<text x="282.8" y="469.6" font-size="8" text-anchor="start" font-weight="bold" font-style="normal" fill="#000" font-family="'Liberation Serif', serif" stroke="#000" stroke-width="0.5" textLength="2.2" lengthAdjust="spacingAndGlyphs">i</text>
<text x="385.2" y="468.6" font-size="13" text-anchor="start" font-weight="bold" font-style="normal" fill="#000" font-family="'Liberation Serif', serif" stroke="#000" stroke-width="0.8" textLength="8.4" lengthAdjust="spacingAndGlyphs">Δ</text>
<text x="396.6" y="468.6" font-size="13" text-anchor="start" font-weight="bold" font-style="normal" fill="#000" font-family="'Liberation Serif', serif" stroke="#000" stroke-width="0.8" textLength="6.6" lengthAdjust="spacingAndGlyphs">F</text>
<text x="407.6" y="462.6" font-size="8.5" text-anchor="start" font-weight="bold" font-style="normal" fill="#000" font-family="'Liberation Serif', serif" stroke="#000" stroke-width="0.5" textLength="4.8" lengthAdjust="spacingAndGlyphs">b</text>
<text x="405" y="472.8" font-size="8" text-anchor="start" font-weight="bold" font-style="normal" fill="#000" font-family="'Liberation Serif', serif" stroke="#000" stroke-width="0.5" textLength="2.4" lengthAdjust="spacingAndGlyphs">i</text>
<text x="658.8" y="744.5" font-size="12" text-anchor="start" font-weight="bold" font-style="normal" fill="#000" font-family="'Liberation Serif', serif" stroke="#000" stroke-width="0.8" textLength="5.6" lengthAdjust="spacingAndGlyphs">n</text>
<text x="664.6" y="747.6" font-size="9" text-anchor="start" font-weight="bold" font-style="normal" fill="#000" font-family="'Liberation Serif', serif" stroke="#000" stroke-width="0.5" textLength="4" lengthAdjust="spacingAndGlyphs">i</text>
<text x="336.8" y="664.7" font-size="19.5" text-anchor="start" font-weight="bold" font-style="italic" fill="#000" font-family="'Liberation Serif', serif" stroke="#000" stroke-width="0.45" textLength="13.4" lengthAdjust="spacingAndGlyphs">Q</text>
<text x="350.6" y="656.7" font-size="8" text-anchor="start" font-weight="bold" font-style="normal" fill="#000" font-family="'Liberation Serif', serif" stroke="#000" stroke-width="0.5" textLength="10.2" lengthAdjust="spacingAndGlyphs">вп</text>
<text x="348.8" y="669.2" font-size="8" text-anchor="start" font-weight="bold" font-style="normal" fill="#000" font-family="'Liberation Serif', serif" stroke="#000" stroke-width="0.5" textLength="2.6" lengthAdjust="spacingAndGlyphs">i</text>
<text x="366.2" y="664.7" font-size="19.5" text-anchor="start" font-weight="bold" font-style="normal" fill="#000" font-family="'Liberation Serif', serif" stroke="#000" stroke-width="0.45" textLength="11.8" lengthAdjust="spacingAndGlyphs">=</text>
<text x="382.4" y="664.7" font-size="19.5" text-anchor="start" font-weight="bold" font-style="italic" fill="#000" font-family="'Liberation Serif', serif" stroke="#000" stroke-width="0.45" textLength="9.2" lengthAdjust="spacingAndGlyphs">n</text>
<text x="391.8" y="669.2" font-size="8" text-anchor="start" font-weight="bold" font-style="normal" fill="#000" font-family="'Liberation Serif', serif" stroke="#000" stroke-width="0.5" textLength="2.2" lengthAdjust="spacingAndGlyphs">i</text>
<text x="394.4" y="664.7" font-size="19.5" text-anchor="start" font-weight="bold" font-style="italic" fill="#000" font-family="'Liberation Serif', serif" stroke="#000" stroke-width="0.45" textLength="12.6" lengthAdjust="spacingAndGlyphs">Q</text>
<text x="407.2" y="669.2" font-size="8" text-anchor="start" font-weight="bold" font-style="normal" fill="#000" font-family="'Liberation Serif', serif" stroke="#000" stroke-width="0.5" textLength="2.6" lengthAdjust="spacingAndGlyphs">i</text>
<text x="415.2" y="664.7" font-size="19.5" text-anchor="start" font-weight="bold" font-style="normal" fill="#000" font-family="'Liberation Serif', serif" stroke="#000" stroke-width="0.45" textLength="10.4" lengthAdjust="spacingAndGlyphs">+</text>
<text x="427.8" y="664.7" font-size="19.5" text-anchor="start" font-weight="bold" font-style="italic" fill="#000" font-family="'Liberation Serif', serif" stroke="#000" stroke-width="0.45" textLength="13.4" lengthAdjust="spacingAndGlyphs">G</text>
<text x="442.2" y="656.7" font-size="9" text-anchor="start" font-weight="bold" font-style="italic" fill="#000" font-family="'Liberation Serif', serif" stroke="#000" stroke-width="0.5" textLength="10.2" lengthAdjust="spacingAndGlyphs">fc</text>
<text x="441.4" y="669.2" font-size="8" text-anchor="start" font-weight="bold" font-style="normal" fill="#000" font-family="'Liberation Serif', serif" stroke="#000" stroke-width="0.5" textLength="2.4" lengthAdjust="spacingAndGlyphs">i</text>
<text x="458.2" y="664.7" font-size="19.5" text-anchor="start" font-weight="bold" font-style="normal" fill="#000" font-family="'Liberation Serif', serif" stroke="#000" stroke-width="0.45" textLength="10.6" lengthAdjust="spacingAndGlyphs">+</text>
<text x="471.4" y="664.7" font-size="19.5" text-anchor="start" font-weight="bold" font-style="italic" fill="#000" font-family="'Liberation Serif', serif" stroke="#000" stroke-width="0.45" textLength="13" lengthAdjust="spacingAndGlyphs">G</text>
<text x="485.4" y="656.7" font-size="9" text-anchor="start" font-weight="bold" font-style="italic" fill="#000" font-family="'Liberation Serif', serif" stroke="#000" stroke-width="0.5" textLength="7.2" lengthAdjust="spacingAndGlyphs">tc</text>
<text x="484.6" y="669.2" font-size="8" text-anchor="start" font-weight="bold" font-style="normal" fill="#000" font-family="'Liberation Serif', serif" stroke="#000" stroke-width="0.5" textLength="2.4" lengthAdjust="spacingAndGlyphs">i</text>
<text x="386" y="765" font-size="15" text-anchor="start" font-weight="bold" font-style="italic" fill="#000" font-family="'Liberation Serif', serif" stroke="#000" stroke-width="0.30" textLength="10.4" lengthAdjust="spacingAndGlyphs">Q</text>
<text x="396.8" y="765" font-size="15" text-anchor="start" font-weight="bold" font-style="normal" fill="#000" font-family="'Liberation Serif', serif" stroke="#000" stroke-width="0.30" textLength="9" lengthAdjust="spacingAndGlyphs">=</text>
<path d="M408,751.2 L422,751.2 L422.6,755.4 L421.4,755.4 L419.9,752.9 L412,752.9 L416.8,760.1 L411.3,767.7 L420.2,767.7 L422.3,765.1 L423.2,765.1 L422.3,770.2 L408,770.2 L408,769.2 L413.8,760.7 Z" fill="#000" stroke="#000" stroke-width="0.2" stroke-linejoin="miter"/>
<text x="412.6" y="748.2" font-size="7" text-anchor="start" font-weight="bold" font-style="italic" fill="#000" font-family="'Liberation Serif', serif" stroke="#000" stroke-width="0.30" textLength="5.2" lengthAdjust="spacingAndGlyphs">n</text>
<text x="409.8" y="779.2" font-size="8" text-anchor="start" font-weight="bold" font-style="normal" fill="#000" font-family="'Liberation Serif', serif" stroke="#000" stroke-width="0.30" textLength="11.2" lengthAdjust="spacingAndGlyphs">i=1</text>
<text x="423.6" y="765" font-size="15" text-anchor="start" font-weight="bold" font-style="italic" fill="#000" font-family="'Liberation Serif', serif" stroke="#000" stroke-width="0.30" textLength="9.2" lengthAdjust="spacingAndGlyphs">Q</text>
<text x="433.4" y="758.5" font-size="8" text-anchor="start" font-weight="bold" font-style="normal" fill="#000" font-family="'Liberation Serif', serif" stroke="#000" stroke-width="0.30" textLength="8.6" lengthAdjust="spacingAndGlyphs">вп</text>
<text x="431.6" y="768.5" font-size="7.5" text-anchor="start" font-weight="bold" font-style="italic" fill="#000" font-family="'Liberation Serif', serif" stroke="#000" stroke-width="0.30" textLength="2.2" lengthAdjust="spacingAndGlyphs">i</text>
<text x="443.2" y="765" font-size="15" text-anchor="start" font-weight="bold" font-style="normal" fill="#000" font-family="'Liberation Serif', serif" stroke="#000" stroke-width="0.30" textLength="9" lengthAdjust="spacingAndGlyphs">+</text>
<text x="453.4" y="765" font-size="15" text-anchor="start" font-weight="bold" font-style="italic" fill="#000" font-family="'Liberation Serif', serif" stroke="#000" stroke-width="0.30" textLength="10" lengthAdjust="spacingAndGlyphs">G</text>
<text x="464" y="758.5" font-size="8.5" text-anchor="start" font-weight="bold" font-style="italic" fill="#000" font-family="'Liberation Serif', serif" stroke="#000" stroke-width="0.30" textLength="8.6" lengthAdjust="spacingAndGlyphs">fc</text>
<text x="473.8" y="765" font-size="15" text-anchor="start" font-weight="bold" font-style="normal" fill="#000" font-family="'Liberation Serif', serif" stroke="#000" stroke-width="0.30" textLength="9" lengthAdjust="spacingAndGlyphs">+</text>
<text x="485" y="765" font-size="15" text-anchor="start" font-weight="bold" font-style="italic" fill="#000" font-family="'Liberation Serif', serif" stroke="#000" stroke-width="0.30" textLength="10.4" lengthAdjust="spacingAndGlyphs">G</text>
<text x="495.8" y="758.5" font-size="8.5" text-anchor="start" font-weight="bold" font-style="italic" fill="#000" font-family="'Liberation Serif', serif" stroke="#000" stroke-width="0.30" textLength="5" lengthAdjust="spacingAndGlyphs">tc</text>
<text x="312" y="859.8" font-size="15" text-anchor="start" font-weight="bold" font-style="italic" fill="#000" font-family="'Liberation Serif', serif" stroke="#000" stroke-width="0.30" textLength="12.4" lengthAdjust="spacingAndGlyphs">U</text>
<text x="329.4" y="859.8" font-size="15" text-anchor="start" font-weight="bold" font-style="normal" fill="#000" font-family="'Liberation Serif', serif" stroke="#000" stroke-width="0.30" textLength="8.4" lengthAdjust="spacingAndGlyphs">=</text>
<path d="M343.6,848.2 L358.7,848.2 L359.3,851.9 L358,851.9 L356.4,849.7 L347.9,849.7 L353.1,856.2 L347.2,863 L356.7,863 L359,860.6 L360,860.6 L359,865.2 L343.6,865.2 L343.6,864.4 L349.8,856.7 Z" fill="#000" stroke="#000" stroke-width="0.2" stroke-linejoin="miter"/>
<text x="363.6" y="859.8" font-size="15" text-anchor="start" font-weight="bold" font-style="italic" fill="#000" font-family="'Liberation Serif', serif" stroke="#000" stroke-width="0.30" textLength="8.4" lengthAdjust="spacingAndGlyphs">n</text>
<text x="372.4" y="863.3" font-size="9" text-anchor="start" font-weight="bold" font-style="italic" fill="#000" font-family="'Liberation Serif', serif" stroke="#000" stroke-width="0.30" textLength="3.2" lengthAdjust="spacingAndGlyphs">i</text>
<text x="377.4" y="859.8" font-size="15" text-anchor="start" font-weight="bold" font-style="italic" fill="#000" font-family="'Liberation Serif', serif" stroke="#000" stroke-width="0.30" textLength="9.2" lengthAdjust="spacingAndGlyphs">S</text>
<text x="387" y="863.3" font-size="9" text-anchor="start" font-weight="bold" font-style="italic" fill="#000" font-family="'Liberation Serif', serif" stroke="#000" stroke-width="0.30" textLength="3.2" lengthAdjust="spacingAndGlyphs">i</text>
<text x="395.8" y="859.8" font-size="15" text-anchor="start" font-weight="bold" font-style="normal" fill="#000" font-family="'Liberation Serif', serif" stroke="#000" stroke-width="0.30" textLength="8.6" lengthAdjust="spacingAndGlyphs">−</text>
<text x="407.6" y="859.8" font-size="15" text-anchor="start" font-weight="bold" font-style="italic" fill="#000" font-family="'Liberation Serif', serif" stroke="#000" stroke-width="0.30" textLength="12.2" lengthAdjust="spacingAndGlyphs">Q</text>
<text x="364.8" y="951.2" font-size="13.5" text-anchor="start" font-weight="bold" font-style="italic" fill="#000" font-family="'Liberation Serif', serif" stroke="#000" stroke-width="0.30" textLength="7.8" lengthAdjust="spacingAndGlyphs">S</text>
<text x="379.8" y="951.2" font-size="13.5" text-anchor="start" font-weight="bold" font-style="normal" fill="#000" font-family="'Liberation Serif', serif" stroke="#000" stroke-width="0.30" textLength="8.2" lengthAdjust="spacingAndGlyphs">=</text>
<path d="M395.4,941 L408.6,941 L409.2,944.5 L408.1,944.5 L406.6,942.4 L399.1,942.4 L403.8,948.4 L398.6,954.7 L406.9,954.7 L408.9,952.5 L409.8,952.5 L408.9,956.8 L395.4,956.8 L395.4,956 L400.9,948.9 Z" fill="#000" stroke="#000" stroke-width="0.2" stroke-linejoin="miter"/>
<text x="401.6" y="937.2" font-size="6.5" text-anchor="start" font-weight="bold" font-style="italic" fill="#000" font-family="'Liberation Serif', serif" stroke="#000" stroke-width="0.30" textLength="4.8" lengthAdjust="spacingAndGlyphs">m</text>
<text x="398.8" y="964.6" font-size="7.5" text-anchor="start" font-weight="bold" font-style="italic" fill="#000" font-family="'Liberation Serif', serif" stroke="#000" stroke-width="0.30" textLength="11.8" lengthAdjust="spacingAndGlyphs">i=1</text>
<text x="418.2" y="951.2" font-size="12" text-anchor="start" font-weight="bold" font-style="italic" fill="#000" font-family="'Liberation Serif', serif" stroke="#000" stroke-width="0.30" textLength="6.4" lengthAdjust="spacingAndGlyphs">n</text>
<text x="425.4" y="954.7" font-size="8" text-anchor="start" font-weight="bold" font-style="italic" fill="#000" font-family="'Liberation Serif', serif" stroke="#000" stroke-width="0.30" textLength="1.8" lengthAdjust="spacingAndGlyphs">i</text>
<text x="429.8" y="951.2" font-size="13.5" text-anchor="start" font-weight="bold" font-style="italic" fill="#000" font-family="'Liberation Serif', serif" stroke="#000" stroke-width="0.30" textLength="7.6" lengthAdjust="spacingAndGlyphs">S</text>
<text x="440.2" y="955.2" font-size="8" text-anchor="start" font-weight="bold" font-style="italic" fill="#000" font-family="'Liberation Serif', serif" stroke="#000" stroke-width="0.30" textLength="2.2" lengthAdjust="spacingAndGlyphs">i</text>
</g>
<g id="crisp">
<text x="249.1" y="556.4" font-size="13.5" text-anchor="start" font-weight="normal" font-style="normal" fill="#000" font-family="'Liberation Serif', serif" textLength="235.3" lengthAdjust="spacingAndGlyphs">Фактические  прямые затраты  на единицу</text>
<text x="311.8" y="569.4" font-size="13.5" text-anchor="start" font-weight="normal" font-style="normal" fill="#000" font-family="'Liberation Serif', serif" textLength="110.8" lengthAdjust="spacingAndGlyphs">продукции (услуги)</text>
<text x="271" y="588.8" font-size="13.2" text-anchor="start" font-weight="normal" font-style="italic" fill="#1a1a1a" font-family="'Liberation Serif', serif" textLength="7.8" lengthAdjust="spacingAndGlyphs">Q</text>
<text x="279" y="591.8" font-size="7.5" text-anchor="start" font-weight="normal" font-style="italic" fill="#5a5a5a" font-family="'Liberation Serif', serif" textLength="1.8" lengthAdjust="spacingAndGlyphs">i</text>
<text x="288.8" y="588.8" font-size="13.2" text-anchor="start" font-weight="normal" font-style="normal" fill="#1a1a1a" font-family="'Liberation Serif', serif" textLength="6.4" lengthAdjust="spacingAndGlyphs">=</text>
<text x="300" y="588.8" font-size="13.2" text-anchor="start" font-weight="normal" font-style="italic" fill="#1a1a1a" font-family="'Liberation Serif', serif" textLength="7.6" lengthAdjust="spacingAndGlyphs">F</text>
<text x="308.4" y="582.8" font-size="7.5" text-anchor="start" font-weight="normal" font-style="italic" fill="#5a5a5a" font-family="'Liberation Serif', serif" textLength="14.2" lengthAdjust="spacingAndGlyphs">min</text>
<text x="307" y="592.3" font-size="7.5" text-anchor="start" font-weight="normal" font-style="italic" fill="#5a5a5a" font-family="'Liberation Serif', serif" textLength="1.8" lengthAdjust="spacingAndGlyphs">i</text>
<text x="328.6" y="588.8" font-size="13.2" text-anchor="start" font-weight="normal" font-style="normal" fill="#1a1a1a" font-family="'Liberation Serif', serif" textLength="6.2" lengthAdjust="spacingAndGlyphs">+</text>
<text x="338.8" y="588.8" font-size="13.2" text-anchor="start" font-weight="normal" font-style="normal" fill="#1a1a1a" font-family="'Liberation Serif', serif" textLength="8" lengthAdjust="spacingAndGlyphs">Δ</text>
<text x="346.8" y="588.8" font-size="13.2" text-anchor="start" font-weight="normal" font-style="italic" fill="#1a1a1a" font-family="'Liberation Serif', serif" textLength="7.6" lengthAdjust="spacingAndGlyphs">F</text>
<text x="357" y="582.8" font-size="7.5" text-anchor="start" font-weight="normal" font-style="italic" fill="#5a5a5a" font-family="'Liberation Serif', serif" textLength="3.2" lengthAdjust="spacingAndGlyphs">a</text>
<text x="354.6" y="592.3" font-size="7.5" text-anchor="start" font-weight="normal" font-style="italic" fill="#5a5a5a" font-family="'Liberation Serif', serif" textLength="1.8" lengthAdjust="spacingAndGlyphs">i</text>
<text x="366.2" y="588.8" font-size="13.2" text-anchor="start" font-weight="normal" font-style="normal" fill="#1a1a1a" font-family="'Liberation Serif', serif" textLength="6" lengthAdjust="spacingAndGlyphs">+</text>
<text x="377" y="588.8" font-size="13.2" text-anchor="start" font-weight="normal" font-style="normal" fill="#1a1a1a" font-family="'Liberation Serif', serif" textLength="8" lengthAdjust="spacingAndGlyphs">Δ</text>
<text x="385" y="588.8" font-size="13.2" text-anchor="start" font-weight="normal" font-style="italic" fill="#1a1a1a" font-family="'Liberation Serif', serif" textLength="7.6" lengthAdjust="spacingAndGlyphs">F</text>
<text x="395.2" y="582.8" font-size="7.5" text-anchor="start" font-weight="normal" font-style="italic" fill="#5a5a5a" font-family="'Liberation Serif', serif" textLength="3.2" lengthAdjust="spacingAndGlyphs">b</text>
<text x="392.8" y="592.3" font-size="7.5" text-anchor="start" font-weight="normal" font-style="italic" fill="#5a5a5a" font-family="'Liberation Serif', serif" textLength="1.8" lengthAdjust="spacingAndGlyphs">i</text>
<text x="404.4" y="588.8" font-size="13.2" text-anchor="start" font-weight="normal" font-style="normal" fill="#1a1a1a" font-family="'Liberation Serif', serif" textLength="6.2" lengthAdjust="spacingAndGlyphs">+</text>
<text x="413.8" y="588.8" font-size="13.2" text-anchor="start" font-weight="normal" font-style="italic" fill="#1a1a1a" font-family="'Liberation Serif', serif" textLength="8.6" lengthAdjust="spacingAndGlyphs">G</text>
<text x="424.4" y="582.8" font-size="7.5" text-anchor="start" font-weight="normal" font-style="italic" fill="#5a5a5a" font-family="'Liberation Serif', serif" textLength="5.8" lengthAdjust="spacingAndGlyphs">fv</text>
<text x="422.6" y="592.3" font-size="7.5" text-anchor="start" font-weight="normal" font-style="italic" fill="#5a5a5a" font-family="'Liberation Serif', serif" textLength="1.8" lengthAdjust="spacingAndGlyphs">i</text>
<text x="437" y="588.8" font-size="13.2" text-anchor="start" font-weight="normal" font-style="normal" fill="#1a1a1a" font-family="'Liberation Serif', serif" textLength="6.4" lengthAdjust="spacingAndGlyphs">+</text>
<text x="447" y="588.8" font-size="13.2" text-anchor="start" font-weight="normal" font-style="italic" fill="#1a1a1a" font-family="'Liberation Serif', serif" textLength="8.6" lengthAdjust="spacingAndGlyphs">G</text>
<text x="456.4" y="582.8" font-size="7.5" text-anchor="start" font-weight="normal" font-style="italic" fill="#5a5a5a" font-family="'Liberation Serif', serif" textLength="6.4" lengthAdjust="spacingAndGlyphs">tv</text>
<text x="455.8" y="592.3" font-size="7.5" text-anchor="start" font-weight="normal" font-style="italic" fill="#5a5a5a" font-family="'Liberation Serif', serif" textLength="1.8" lengthAdjust="spacingAndGlyphs">i</text>
</g>
</svg>
</body></html>
